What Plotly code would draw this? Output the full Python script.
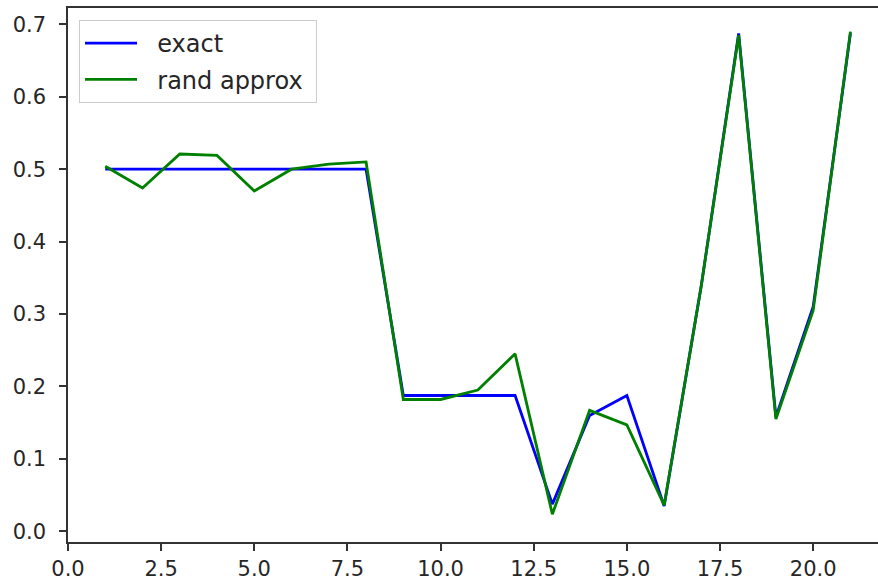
import plotly.graph_objects as go

x_vals = list(range(1, 22))
exact = [0.5, 0.5, 0.5, 0.5, 0.5, 0.5, 0.5, 0.5,
         0.1875, 0.1875, 0.1875, 0.1875,
         0.0375, 0.16, 0.1875, 0.035,
         0.34, 0.6875, 0.158, 0.31, 0.6875]
rand_approx = [0.504, 0.474, 0.521, 0.519, 0.470, 0.500, 0.507, 0.510,
               0.182, 0.182, 0.195, 0.245,
               0.0235, 0.167, 0.147, 0.036,
               0.34, 0.685, 0.155, 0.305, 0.69]

x_ticks = [0.0, 2.5, 5.0, 7.5, 10.0, 12.5, 15.0, 17.5, 20.0]
y_ticks = [0.0, 0.1, 0.2, 0.3, 0.4, 0.5, 0.6, 0.7]

fig = go.Figure()
fig.add_trace(go.Scatter(x=x_vals, y=exact, mode="lines", name="\u00a0\u00a0exact",
                         line=dict(color="#0000ff", width=2.8), legendgroup="a"))
fig.add_trace(go.Scatter(x=x_vals, y=rand_approx, mode="lines",
                         name="\u00a0\u00a0rand approx\u00a0",
                         line=dict(color="#008000", width=2.8), legendgroup="b"))

axis_font = dict(family="DejaVu Sans", size=21, color="#262626")
fig.update_layout(
    width=878, height=583,
    margin=dict(l=68, r=0, t=8, b=41, autoexpand=False),
    paper_bgcolor="white", plot_bgcolor="white",
    showlegend=True,
    legend=dict(x=0.0136, y=0.9775, xanchor="left", yanchor="top",
                bgcolor="rgba(255,255,255,0.8)", bordercolor="#cccccc", borderwidth=1,
                font=dict(family="DejaVu Sans", size=24, color="#262626"),
                itemwidth=52, tracegroupgap=2),
    xaxis=dict(range=[0, 21.74], tickvals=x_ticks, automargin=False,
               ticktext=[f"{v:.1f}" for v in x_ticks],
               showgrid=False, zeroline=False, showline=True, linecolor="#333333",
               linewidth=1.5, mirror=True, ticks="outside", ticklen=7,
               tickcolor="#333333", tickwidth=1.5, tickfont=axis_font),
    yaxis=dict(range=[-0.0148, 0.7226], tickvals=y_ticks, automargin=False,
               ticktext=[f"{v:.1f}" for v in y_ticks], ticklabelstandoff=9,
               showgrid=False, zeroline=False, showline=True, linecolor="#333333",
               linewidth=1.5, mirror=False, ticks="outside", ticklen=7,
               tickcolor="#333333", tickwidth=1.5, tickfont=axis_font),
)

fig.write_html("out.html", config={"displayModeBar": False},
               post_script="document.body.style.margin='0';document.body.style.overflow='hidden';")
